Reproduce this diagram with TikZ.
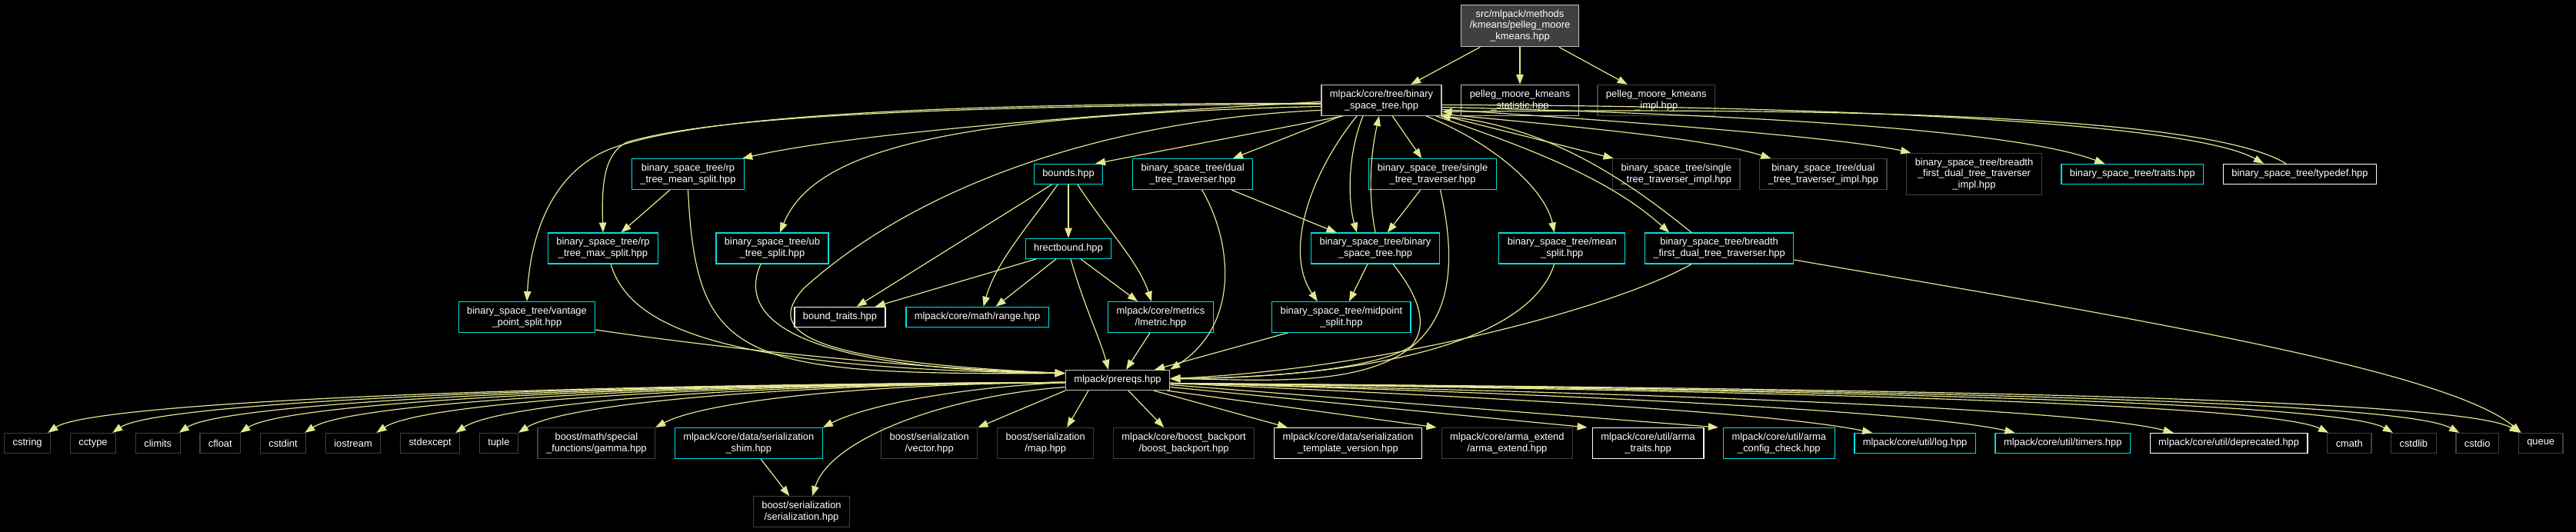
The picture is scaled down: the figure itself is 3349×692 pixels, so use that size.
\documentclass[tikz,border=0pt]{standalone}
\usepackage{fontspec}
\setmainfont{Liberation Sans}
\usepackage{tikz}
\usetikzlibrary{arrows.meta, positioning}
\definecolor{edgeyellow}{HTML}{E6E692}
\definecolor{doccyan}{HTML}{00E0E0}
\definecolor{extgrey}{HTML}{404040}
\definecolor{lightgrey}{HTML}{BFBFBF}
\newcommand{\hdrfont}{\fontsize{12.9pt}{14.7pt}\selectfont}

\begin{document}
\begin{tikzpicture}[
  x=1pt, y=-1pt,
  node distance=48.5pt and 24.4pt,
  box/.style={rectangle, draw=lightgrey, line width=1.3pt, fill=black, text=white, font=\hdrfont, align=center, inner xsep=11pt, inner ysep=6.5pt, minimum height=26pt},
  docbox/.style={box, draw=doccyan},
  extbox/.style={box, draw=extgrey},
  whitebox/.style={box, draw=white},
  rootbox/.style={box, fill=extgrey},
  arrow/.style={-{Triangle[length=13pt, width=9.5pt]}, line width=1.2pt, color=edgeyellow}
]
  \path[use as bounding box, fill=black] (0,0) rectangle (3349,692);

  \node[rootbox] (root) at (1976,33.5) {src/mlpack/methods\\/kmeans/pelleg\_moore\\\_kmeans.hpp};
  \node[box, below=of root] (stat) {pelleg\_moore\_kmeans\\\_statistic.hpp};
  \node[box, left=of stat] (bst) {mlpack/core/tree/binary\\\_space\_tree.hpp};
  \node[extbox, right=23.4pt of stat] (kimpl) {pelleg\_moore\_kmeans\\\_impl.hpp};

  \node[docbox] (rpmean) at (894.5,226.5) {binary\_space\_tree/rp\\\_tree\_mean\_split.hpp};
  \node[docbox] (bounds) at (1389,226.5) {bounds.hpp};
  \node[docbox, right=37.5pt of bounds] (dualtrav) {binary\_space\_tree/dual\\\_tree\_traverser.hpp};
  \node[docbox] (singletrav) at (1862.5,226.5) {binary\_space\_tree/single\\\_tree\_traverser.hpp};
  \node[extbox, right=150pt of singletrav] (singleimpl) {binary\_space\_tree/single\\\_tree\_traverser\_impl.hpp};
  \node[extbox, right=of singleimpl] (dualimpl) {binary\_space\_tree/dual\\\_tree\_traverser\_impl.hpp};
  \node[extbox, right=of dualimpl] (bfimpl) {binary\_space\_tree/breadth\\\_first\_dual\_tree\_traverser\\\_impl.hpp};
  \node[docbox, right=of bfimpl] (traits) {binary\_space\_tree/traits.hpp};
  \node[whitebox, right=of traits] (typedef) {binary\_space\_tree/typedef.hpp};

  \node[docbox] (rpmax) at (784,323) {binary\_space\_tree/rp\\\_tree\_max\_split.hpp};
  \node[docbox] (ubtree) at (1004,323) {binary\_space\_tree/ub\\\_tree\_split.hpp};
  \node[docbox, below=69.5pt of bounds] (hrect) {hrectbound.hpp};
  \node[docbox] (bstinner) at (1788,323) {binary\_space\_tree/binary\\\_space\_tree.hpp};
  \node[docbox, right=76pt of bstinner] (meansplit) {binary\_space\_tree/mean\\\_split.hpp};
  \node[docbox, right=of meansplit] (bfdual) {binary\_space\_tree/breadth\\\_first\_dual\_tree\_traverser.hpp};

  \node[docbox] (vantage) at (685,412.5) {binary\_space\_tree/vantage\\\_point\_split.hpp};
  \node[whitebox] (boundtraits) at (1092,412.5) {bound\_traits.hpp};
  \node[docbox, right=25.5pt of boundtraits] (range) {mlpack/core/math/range.hpp};
  \node[docbox, right=76pt of range] (lmetric) {mlpack/core/metrics\\/lmetric.hpp};
  \node[docbox, right=75pt of lmetric] (midpoint) {binary\_space\_tree/midpoint\\\_split.hpp};

  \node[box] (prereqs) at (1453,494.5) {mlpack/prereqs.hpp};

  \node[extbox, anchor=west] (cstring) at (5,576.5) {cstring};
  \node[extbox, right=of cstring] (cctype) {cctype};
  \node[extbox, right=of cctype] (climits) {climits};
  \node[extbox, right=of climits] (cfloat) {cfloat};
  \node[extbox, right=of cfloat] (cstdint) {cstdint};
  \node[extbox, right=of cstdint] (iostream) {iostream};
  \node[extbox, right=of iostream] (stdexcept) {stdexcept};
  \node[extbox, right=of stdexcept] (tuple) {tuple};
  \node[extbox, right=of tuple] (gamma) {boost/math/special\\\_functions/gamma.hpp};
  \node[docbox, right=of gamma] (shim) {mlpack/core/data/serialization\\\_shim.hpp};
  \node[extbox, right=75pt of shim] (vector) {boost/serialization\\/vector.hpp};
  \node[extbox, right=of vector] (map) {boost/serialization\\/map.hpp};
  \node[extbox, right=of map] (backport) {mlpack/core/boost\_backport\\/boost\_backport.hpp};
  \node[whitebox, right=of backport] (tmplver) {mlpack/core/data/serialization\\\_template\_version.hpp};
  \node[extbox, right=of tmplver] (armaext) {mlpack/core/arma\_extend\\/arma\_extend.hpp};
  \node[whitebox, right=of armaext] (armatraits) {mlpack/core/util/arma\\\_traits.hpp};
  \node[docbox, right=of armatraits] (armacfg) {mlpack/core/util/arma\\\_config\_check.hpp};
  \node[docbox, right=of armacfg] (log) {mlpack/core/util/log.hpp};
  \node[docbox, right=of log] (timers) {mlpack/core/util/timers.hpp};
  \node[whitebox, right=of timers] (deprecated) {mlpack/core/util/deprecated.hpp};
  \node[extbox, right=of deprecated] (cmath) {cmath};
  \node[extbox, right=of cmath] (cstdlib) {cstdlib};
  \node[extbox, right=of cstdlib] (cstdio) {cstdio};
  \node[extbox, right=of cstdio] (queue) {queue};

  \node[extbox] (serial) at (1042,665.7) {boost/serialization\\/serialization.hpp};

  \draw[arrow] (root) -- (bst);
  \draw[arrow] (root) -- (stat);
  \draw[arrow] (root) -- (kimpl);

  \draw[arrow] ([yshift=-2pt]bst.west) .. controls (1400,150) and (1100,175) .. ([xshift=-3pt]rpmean.north east);
  \draw[arrow] ([yshift=-5pt]bst.west) .. controls (1100,138) and (900,160) .. (815,185) .. controls (785,200) and (782,240) .. (rpmax.north);
  \draw[arrow] ([yshift=-4pt]bst.west) .. controls (1100,134) and (880,160) .. (790,195) .. controls (720,225) and (690,300) .. (vantage.north);
  \draw[arrow] ([yshift=-8pt]bst.west) .. controls (1250,150) and (1060,190) .. ([xshift=10pt]ubtree.north);
  \draw[arrow] ([yshift=-13pt]bst.west) .. controls (1450,155) and (1200,235) .. (1045,375) .. controls (995,430) and (1040,470) .. ([yshift=9pt]prereqs.west);
  \draw[arrow] ([xshift=-50pt]bst.south) -- ([xshift=35pt]bounds.north);
  \draw[arrow] (bst) -- (dualtrav);
  \draw[arrow] ([xshift=-32pt]bst.south) .. controls (1700,230) and (1670,330) .. ([xshift=-31pt]midpoint.north);
  \draw[arrow] ([xshift=-24pt]bst.south) .. controls (1752,200) and (1752,260) .. ([xshift=-24pt]bstinner.north);
  \draw[arrow] (bstinner.north) .. controls (1778,250) and (1782,200) .. ([xshift=-3pt]bst.south);
  \draw[arrow] (bst) -- (singletrav);
  \draw[arrow] (bst) -- (singleimpl);
  \draw[arrow] ([xshift=58pt]bst.south) .. controls (1950,190) and (2010,250) .. ([xshift=-10pt]meansplit.north);
  \draw[arrow] ([xshift=-8pt]bst.south east) .. controls (1980,190) and (2090,230) .. ([xshift=-65pt]bfdual.north);
  \draw[arrow] ([xshift=-36pt]bfdual.north) .. controls (2110,230) and (2010,165) .. ([xshift=-2pt]bst.south east);
  \draw[arrow] ([yshift=-18pt]bst.east) .. controls (2050,165) and (2220,180) .. ([xshift=-68pt]dualimpl.north);
  \draw[arrow] ([yshift=-12pt]bst.east) .. controls (2150,160) and (2400,180) .. ([xshift=6pt]bfimpl.north west);
  \draw[arrow] ([yshift=-9pt]bst.east) .. controls (2300,150) and (2620,170) .. ([xshift=-36pt]traits.north);
  \draw[arrow] ([yshift=-6pt]bst.east) .. controls (2400,138) and (2850,160) .. ([xshift=-47pt]typedef.north);
  \draw[arrow] ([xshift=-18pt]typedef.north) .. controls (2870,150) and (2400,140) .. ([yshift=-15pt]bst.east);

  \draw[arrow] (rpmean) -- (rpmax);
  \draw[arrow] (rpmean.south) .. controls (905,470) and (960,488) .. ([yshift=9pt]prereqs.west);
  \draw[arrow] ([xshift=10pt]rpmax.south) .. controls (820,430) and (950,480) .. ([yshift=9pt]prereqs.west);
  \draw[arrow] ([yshift=4pt]vantage.south east) .. controls (950,455) and (1200,480) .. ([yshift=9pt]prereqs.west);
  \draw[arrow] ([xshift=-15pt]ubtree.south) .. controls (955,420) and (1050,480) .. ([yshift=9pt]prereqs.west);

  \draw[arrow] (bounds) -- (boundtraits);
  \draw[arrow] ([xshift=-14pt]bounds.south) .. controls (1340,290) and (1295,340) .. ([xshift=8pt]range.north);
  \draw[arrow] (bounds) -- (hrect);
  \draw[arrow] ([xshift=12pt]bounds.south) .. controls (1440,300) and (1480,340) .. ([xshift=-12pt]lmetric.north);
  \draw[arrow] ([xshift=-42pt]hrect.south) -- ([xshift=-14pt]boundtraits.north east);
  \draw[arrow] ([xshift=-16pt]hrect.south) -- ([xshift=24pt]range.north);
  \draw[arrow] ([xshift=16pt]hrect.south) -- ([xshift=-30pt]lmetric.north);
  \draw[arrow] ([xshift=3pt]hrect.south) .. controls (1410,400) and (1430,440) .. ([xshift=-12pt]prereqs.north);
  \draw[arrow] ([xshift=-14pt]lmetric.south) -- ([xshift=11pt]prereqs.north);
  \draw[arrow] ([xshift=-70pt]midpoint.south) -- ([xshift=48pt]prereqs.north);

  \draw[arrow] (dualtrav) -- (bstinner);
  \draw[arrow] ([xshift=12pt]dualtrav.south) .. controls (1600,310) and (1615,420) .. (prereqs.north east);
  \draw[arrow] (singletrav) -- (bstinner);
  \draw[arrow] ([xshift=10pt]singletrav.south) .. controls (1935,520) and (1720,495) .. ([yshift=2pt]prereqs.east);
  \draw[arrow] (bstinner) -- (midpoint);
  \draw[arrow] ([xshift=23pt]bstinner.south) .. controls (1840,380) and (1860,420) .. (1835,450) .. controls (1790,480) and (1650,492) .. ([yshift=2pt]prereqs.east);
  \draw[arrow] ([xshift=-10pt]meansplit.south) .. controls (1990,440) and (1800,490) .. ([yshift=2pt]prereqs.east);
  \draw[arrow] ([xshift=-36pt]bfdual.south) .. controls (2100,400) and (1800,480) .. ([yshift=2pt]prereqs.east);
  \draw[arrow] ([yshift=-15pt]bfdual.east) .. controls (2750,410) and (3180,480) .. ([xshift=4pt]queue.north west);

  \draw[arrow] ([yshift=-3pt]prereqs.west) .. controls (657,500) and (117,525) .. ([xshift=-4pt]cstring.north east);
  \draw[arrow] ([yshift=-3pt]prereqs.west) .. controls (704,500) and (202,525) .. ([xshift=-5pt]cctype.north east);
  \draw[arrow] ([yshift=-3pt]prereqs.west) .. controls (752,500) and (289,525) .. ([xshift=-2pt]climits.north east);
  \draw[arrow] ([yshift=-3pt]prereqs.west) .. controls (796,500) and (369,525) .. ([xshift=-1pt]cfloat.north east);
  \draw[arrow] ([yshift=-3pt]prereqs.west) .. controls (843,500) and (454,525) .. ([xshift=-2pt]cstdint.north east);
  \draw[arrow] ([yshift=-3pt]prereqs.west) .. controls (893,500) and (546,525) .. ([xshift=-6pt]iostream.north east);
  \draw[arrow] ([yshift=-3pt]prereqs.west) .. controls (950,500) and (649,525) .. ([xshift=-6pt]stdexcept.north east);
  \draw[arrow] ([yshift=-3pt]prereqs.west) .. controls (995,500) and (730,527) .. (tuple.north east);
  \draw[arrow] ([yshift=-3pt]prereqs.west) .. controls (1093,500) and (910,525) .. (gamma.north east);
  \draw[arrow] ([yshift=-3pt]prereqs.west) .. controls (1230,505) and (1120,530) .. (shim.north east);
  \draw[arrow] ([yshift=-9pt]prereqs.west) .. controls (1230,515) and (1080,570) .. ([xshift=14pt]serial.north);
  \draw[arrow] (shim) -- (serial);
  \draw[arrow] (prereqs.south west) -- (vector.north east);
  \draw[arrow] ([xshift=-38pt]prereqs.south) -- ([xshift=28pt]map.north);
  \draw[arrow] ([xshift=14pt]prereqs.south) -- ([xshift=-26pt]backport.north);
  \draw[arrow] ([xshift=47pt]prereqs.south) -- ([xshift=18pt]tmplver.north west);
  \draw[arrow] ([xshift=-4pt]prereqs.south east) -- ([xshift=-6pt]armaext.north west);
  \draw[arrow] ([yshift=-9pt]prereqs.east) -- ([xshift=-6pt]armatraits.north west);
  \draw[arrow] ([yshift=-6pt]prereqs.east) -- ([xshift=-6pt]armacfg.north west);
  \draw[arrow] ([yshift=-4pt]prereqs.east) .. controls (1900,515) and (2300,535) .. ([xshift=24pt]log.north west);
  \draw[arrow] ([yshift=-4pt]prereqs.east) .. controls (2000,510) and (2500,535) .. ([xshift=26pt]timers.north west);
  \draw[arrow] ([yshift=-4pt]prereqs.east) .. controls (2100,510) and (2700,530) .. ([xshift=31pt]deprecated.north west);
  \draw[arrow] ([yshift=-4pt]prereqs.east) .. controls (2300,508) and (2950,525) .. ([xshift=2pt]cmath.north west);
  \draw[arrow] ([yshift=-4pt]prereqs.east) .. controls (2350,507) and (3040,522) .. ([xshift=3pt]cstdlib.north west);
  \draw[arrow] ([yshift=-4pt]prereqs.east) .. controls (2400,506) and (3120,520) .. ([xshift=5pt]cstdio.north west);
  \draw[arrow] ([yshift=-4pt]prereqs.east) .. controls (2450,505) and (3200,518) .. ([xshift=2pt]queue.north west);
\end{tikzpicture}
\end{document}
